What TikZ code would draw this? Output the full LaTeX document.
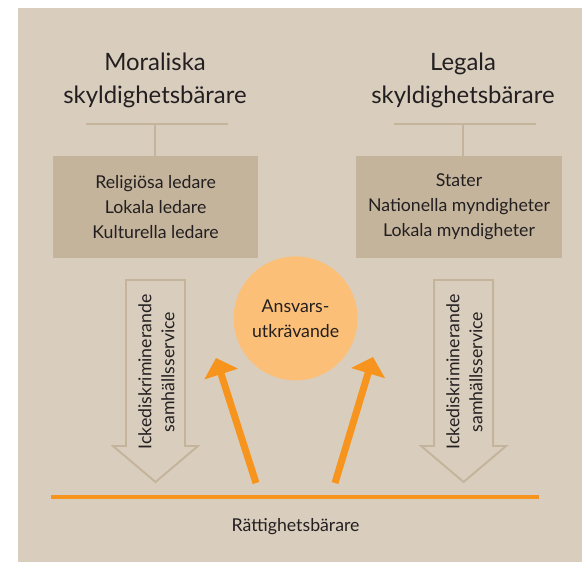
\documentclass[tikz,border=0pt]{standalone}
\usepackage{fontspec}
\setmainfont{Lato}
\usetikzlibrary{arrows.meta, positioning, calc}
\definecolor{mybeige}{RGB}{217,206,190}
\definecolor{mytan}{RGB}{196,180,156}
\definecolor{mypeach}{RGB}{251,191,120}
\definecolor{myorange}{RGB}{247,148,29}
\definecolor{mydark}{RGB}{35,31,32}
\tikzset{
  heading/.style={align=center, text=mydark,
    font=\fontsize{17}{23.4}\selectfont},
  groupbox/.style={rectangle, fill=mytan, align=center, text=mydark,
    minimum width=5.13cm, minimum height=2.55cm,
    font=\fontsize{12.6}{17.8}\selectfont},
  stem/.style={draw=mytan, line width=1.5pt},
  hollow/.style={draw=mytan, line width=1.4pt, line join=miter},
  uparrow/.style={-{Triangle[length=12pt, width=24.5pt]}, line width=5pt, color=myorange},
  plain/.style={text=mydark, font=\fontsize{12.6}{17.8}\selectfont, align=center}
}

\begin{document}
\begin{tikzpicture}[
  demand/.style={circle, fill=mypeach, minimum size=3.1cm, inner sep=0pt,
    align=center, text=mydark, font=\fontsize{12.6}{17.8}\selectfont}
]
  \useasboundingbox (0,0) rectangle (14.55,14.05);
  \fill[mybeige] (0.45,0) rectangle (14.55,13.85);

  % Headings
  \node[heading] (moral) at (3.875,12.03) {Moraliska\\skyldighetsbärare};
  \node[heading] (legal) at (11.575,12.03) {Legala\\skyldighetsbärare};

  % Boxes
  \node[groupbox] (boxL) at (3.89,8.875) {Religiösa ledare\\Lokala ledare\\Kulturella ledare};
  \node[groupbox, minimum width=5.15cm] (boxR) at (11.475,8.875) {Stater\\Nationella myndigheter\\Lokala myndigheter};

  % Bars between headings and boxes
  \coordinate (barL) at (3.875,10.95);
  \coordinate (barR) at (11.575,10.95);
  \draw[stem] (2.15,10.95) -- (5.7,10.95);
  \draw[stem] (9.85,10.95) -- (13.4,10.95);
  \draw[stem] (barL) -- (barL |- boxL.north);
  \draw[stem] (barR) -- (barR |- boxR.north);

  % Hollow arrows down
  \coordinate (tipL) at (3.8875,2.0);
  \coordinate (tipR) at (11.59,2.0);
  \foreach \t in {tipL,tipR}
    \draw[hollow] (\t) -- ++(-1.0625,0.9) -- ++(0.325,0) -- ++(0,4.15)
      -- ++(1.475,0) -- ++(0,-4.15) -- ++(0.325,0) -- cycle;
  \node[plain, rotate=90, font=\fontsize{12.6}{16.4}\selectfont] (servL) at (3.91,4.75) {Ickediskriminerande\\samhällsservice};
  \node[plain, rotate=90, font=\fontsize{12.6}{16.4}\selectfont] (servR) at (11.61,4.75) {Ickediskriminerande\\samhällsservice};

  % Circle
  \node[demand] (ansvar) at (7.39,6.09) {Ansvars-\\utkrävande};

  % Rights holders
  \coordinate (lineL) at (1.275,1.625);
  \coordinate (lineR) at (13.475,1.625);
  \draw[myorange, line width=3.5pt] (lineL) -- (lineR);
  \node[plain] (holders) at (7.39,0.875) {Rättighetsbärare};

  % Orange arrows
  \coordinate (fromL) at (6.4,1.975);
  \coordinate (toL) at (5.4,5.1);
  \coordinate (fromR) at (8.375,1.975);
  \coordinate (toR) at (9.325,5.125);
  \draw[uparrow] (fromL) -- (toL);
  \draw[uparrow] (fromR) -- (toR);
\end{tikzpicture}
\end{document}
